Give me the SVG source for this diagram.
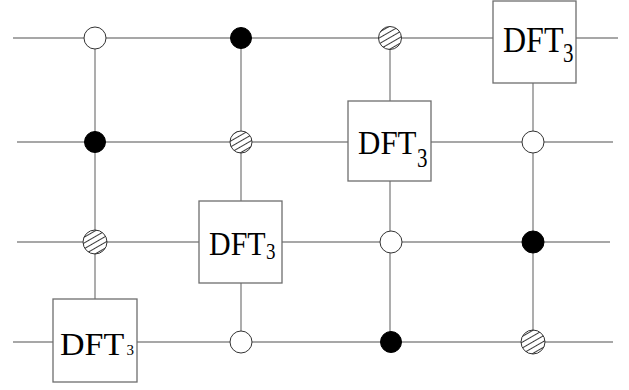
<svg xmlns="http://www.w3.org/2000/svg" width="629" height="390" viewBox="0 0 629 390">
<style>
.w{stroke:#8a8a8a;stroke-width:1.4;fill:none}
.box{fill:#fff;stroke:#6e6e6e;stroke-width:1.3}
.open{fill:#fff;stroke:#333;stroke-width:1}
.full{fill:#000;stroke:#000;stroke-width:1}
.hat{fill:url(#hatch);stroke:#333;stroke-width:1}
.t{font-family:"Liberation Serif","Times New Roman",serif;fill:#000}
</style>
<defs>
<pattern id="hatch" patternUnits="userSpaceOnUse" width="5" height="5" patternTransform="rotate(-30)">
<rect width="5" height="5" fill="#fff"/>
<line x1="0" y1="2.5" x2="5" y2="2.5" stroke="#222" stroke-width="0.9"/>
</pattern>
</defs>
<g id="connectors">
<line class="w" x1="13" y1="38" x2="618" y2="38"/>
<line class="w" x1="17" y1="142" x2="613" y2="142"/>
<line class="w" x1="17" y1="242" x2="610" y2="242"/>
<line class="w" x1="13" y1="342" x2="613" y2="342"/>
<line class="w" x1="95" y1="38" x2="95" y2="299"/>
<line class="w" x1="241" y1="38" x2="241" y2="342"/>
<line class="w" x1="390" y1="38" x2="390" y2="342"/>
<line class="w" x1="533" y1="38" x2="533" y2="342"/>
</g>
<g id="c1r1"><circle class="open" cx="95" cy="38" r="11"/></g>
<g id="c1r2"><circle class="full" cx="95" cy="142" r="10.5"/></g>
<g id="c1r3"><circle class="hat" cx="95" cy="242" r="12"/></g>
<g id="dft1"><rect class="box" x="53" y="299" width="84" height="83"/>
<text class="t" transform="translate(60 355) scale(1 0.92)" font-size="34">DFT</text>
<text class="t" x="126.5" y="355" font-size="15">3</text></g>
<g id="c2r1"><circle class="full" cx="241" cy="38" r="10.5"/></g>
<g id="c2r2"><circle class="hat" cx="241" cy="142" r="11"/></g>
<g id="dft2"><rect class="box" x="199" y="201" width="83" height="82"/>
<text class="t" transform="translate(209 255) scale(1 1.15)" font-size="30">DFT</text>
<text class="t" transform="translate(266 259) scale(1 1.25)" font-size="19">3</text></g>
<g id="c2r4"><circle class="open" cx="241" cy="342" r="11"/></g>
<g id="c3r1"><circle class="hat" cx="390" cy="38" r="11.5"/></g>
<g id="dft3"><rect class="box" x="348" y="101" width="83" height="80"/>
<text class="t" transform="translate(358 154) scale(1 1.12)" font-size="31">DFT</text>
<text class="t" transform="translate(417 167) scale(1 1.35)" font-size="21">3</text></g>
<g id="c3r3"><circle class="open" cx="391" cy="242" r="11"/></g>
<g id="c3r4"><circle class="full" cx="391" cy="342" r="10.5"/></g>
<g id="dft4"><rect class="box" x="493" y="1" width="83" height="82"/>
<text class="t" transform="translate(503 52) scale(1 1.1)" font-size="32">DFT</text>
<text class="t" transform="translate(563 62) scale(1 1.35)" font-size="21">3</text></g>
<g id="c4r2"><circle class="open" cx="533" cy="142" r="11"/></g>
<g id="c4r3"><circle class="full" cx="533" cy="242" r="11"/></g>
<g id="c4r4"><circle class="hat" cx="533" cy="342" r="12"/></g>
</svg>
